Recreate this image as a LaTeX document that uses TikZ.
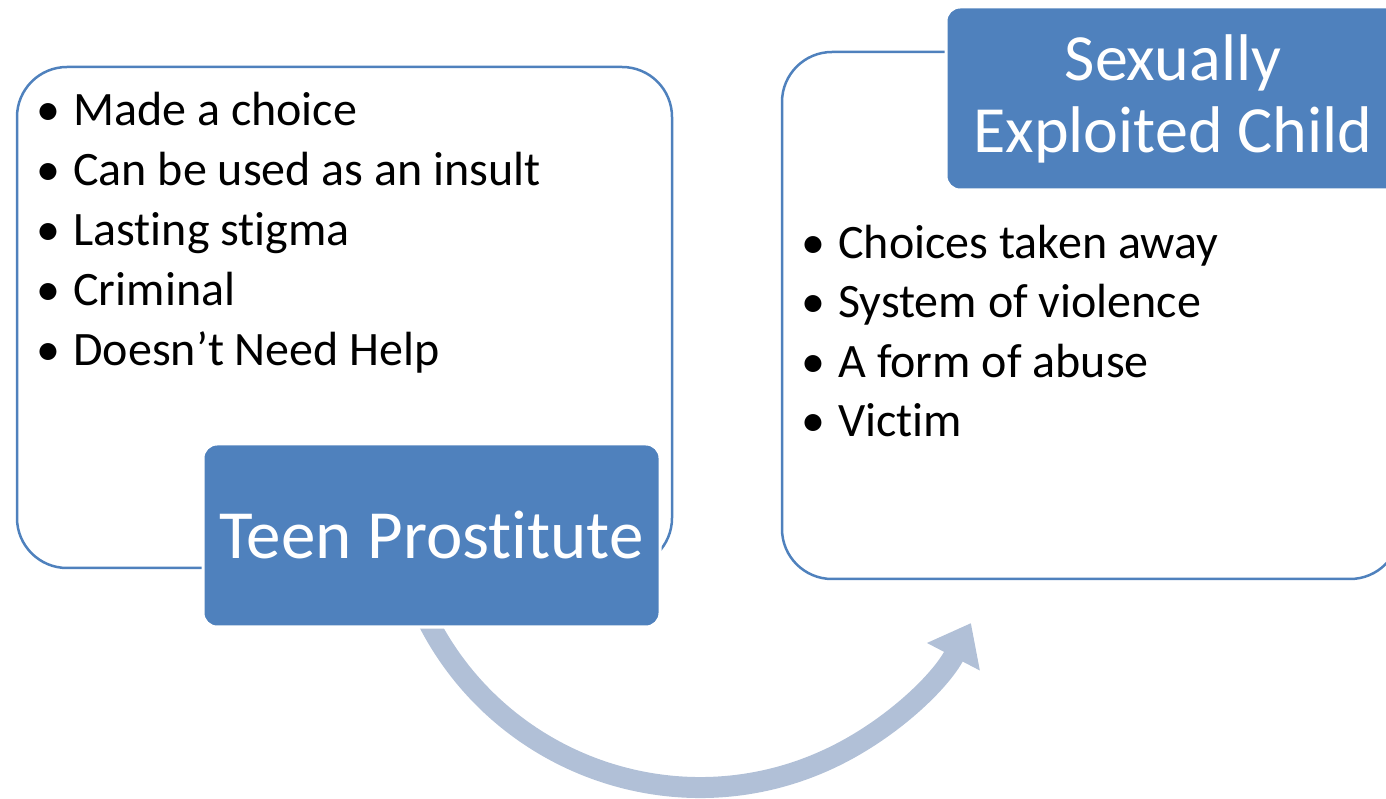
\documentclass[tikz,border=0pt]{standalone}
\usepackage{fontspec}
\setmainfont{Carlito}[Ligatures=NoCommon]
\usetikzlibrary{arrows.meta}
\definecolor{accent}{HTML}{4F81BD}
\definecolor{pale}{HTML}{B1C0D7}

\begin{document}
\begin{tikzpicture}[x=0.5pt,y=0.5pt,
  outline/.style={draw=accent,line width=1.25pt,rounded corners=25pt},
  titlebox/.style={fill=accent,draw=white,line width=1.5pt,rounded corners=7pt,text=white,
    minimum width=228.5pt,minimum height=91.5pt,inner sep=0pt,align=center,
    font=\fontsize{33}{36}\selectfont},
  item/.style={anchor=base west,inner sep=0pt,font=\fontsize{24}{30}\selectfont},
  flow/.style={draw=pale,line width=10.5pt,-{Triangle[length=19pt,width=28.5pt]}}]
\clip (0,0) rectangle (1386,798);
% outline boxes
\draw[outline] (17,230) rectangle (672,731);
\draw[outline] (782,219) rectangle (1400,746);
% curved arrow
\coordinate (arcS) at (425.4,182.1);
\draw[flow] (arcS) arc[start angle=206,end angle=332.5,radius=305.5];
% titles
\node[titlebox,font=\fontsize{34.5}{38}\selectfont] (teen) at (431.5,262.5) {Teen Prostitute};
\node[titlebox,minimum width=227pt] (child) at (1173,699.5) {Sexually\\Exploited Child};
% left list
\node[item] (l1) at (36,672) {\makebox[18.5pt][l]{•}Made a choice};
\node[item] (l2) at (36,612) {\makebox[18.5pt][l]{•}Can be used as an insult};
\node[item] (l3) at (36,552) {\makebox[18.5pt][l]{•}Lasting stigma};
\node[item] (l4) at (36,492) {\makebox[18.5pt][l]{•}Criminal};
\node[item] (l5) at (36,432) {\makebox[18.5pt][l]{•}Doesn’t Need Help};
% right list
\node[item] (r1) at (801,539) {\makebox[18.5pt][l]{•}Choices taken away};
\node[item] (r2) at (801,480) {\makebox[18.5pt][l]{•}System of violence};
\node[item] (r3) at (801,420) {\makebox[18.5pt][l]{•}A form of abuse};
\node[item] (r4) at (801,361) {\makebox[18.5pt][l]{•}Victim};
\end{tikzpicture}
\end{document}
